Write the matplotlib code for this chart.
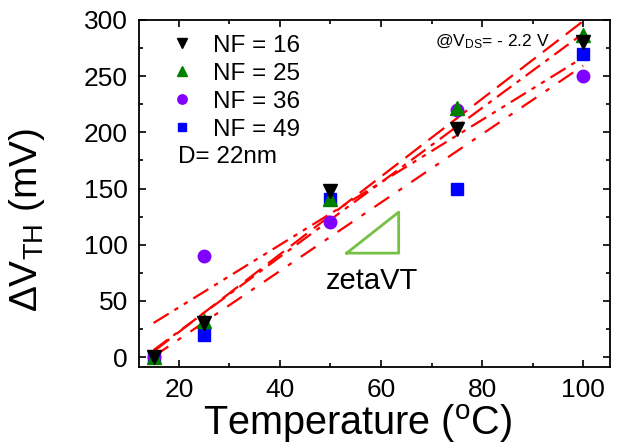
import matplotlib
matplotlib.use("Agg")
import matplotlib.pyplot as plt
import numpy as np

plt.rcParams['font.family'] = ['Liberation Sans', 'DejaVu Sans']
plt.rcParams['mathtext.fontset'] = 'custom'
plt.rcParams['mathtext.rm'] = 'Liberation Sans'
plt.rcParams['mathtext.it'] = 'Liberation Sans:italic'

temp = [15, 25, 50, 75, 100]
nf16 = [0, 30, 148, 203, 280]
nf25 = [0, 32, 141, 222, 287]
nf36 = [0, 90, 120, 220, 250]
nf49 = [0, 20, 141, 150, 270]

labels = ['NF = 16', 'NF = 25', 'NF = 36', 'NF = 49']
series = [nf16, nf25, nf36, nf49]
markers = ['v', '^', 'o', 's']
colors = ['black', 'green', '#8000ff', 'blue']
msizes = [10, 10, 9, 8]
zorders = [6, 5, 4, 3]
fit_styles = [(0, (8, 3, 2, 3)), (0, (9, 4)), (0, (8, 3, 2, 3, 2, 3)), (0, (8, 5, 2, 5))]

fig = plt.figure(figsize=(6.23, 4.44), dpi=100)
ax = fig.add_axes([0.223, 0.173, 0.756, 0.782])

# linear fits
for y, ls in zip(series, fit_styles):
    p = np.polyfit(temp, y, 1)
    xx = np.array([temp[0], temp[-1]])
    ax.plot(xx, np.polyval(p, xx), color='red', ls=ls, lw=1.6, zorder=1)

for y, m, c, ms, z, lab in zip(series, markers, colors, msizes, zorders, labels):
    ax.plot(temp, y, ls='none', marker=m, color=c, ms=ms, label=lab, zorder=z)

# slope triangle
ax.plot([53.2, 63.5, 63.5, 53.2], [92.5, 92.5, 129, 92.5], color='#76c043', lw=2, zorder=2)
ax.text(58.3, 68, 'zetaVT', fontsize=21, ha='center', va='center')
ax.text(0.75, 0.965, r'@V$_{\rm DS}$= - 2.2 V', transform=ax.transAxes,
        fontsize=12.5, ha='center', va='top')

leg = ax.legend(loc='upper left', bbox_to_anchor=(0.02, 1.0), frameon=False,
                fontsize=17.5, markerscale=0.75, handletextpad=0.45,
                labelspacing=0.25, borderaxespad=0.2, handlelength=1.6)
ax.text(0.082, 0.605, 'D= 22nm', transform=ax.transAxes, fontsize=17.5,
        ha='left', va='center')

ax.set_xlim(12.1, 105.3)
ax.set_ylim(-9, 300)
ax.set_xticks([20, 40, 60, 80, 100])
ax.set_xticks([30, 50, 70, 90], minor=True)
ax.set_yticks([0, 50, 100, 150, 200, 250, 300])
ax.set_yticks([25, 75, 125, 175, 225, 275], minor=True)
ax.tick_params(which='both', direction='in', top=True, right=True, labelsize=19, width=1.2)
ax.tick_params(which='major', length=5, pad=8)
ax.tick_params(which='minor', length=3)
for s in ax.spines.values():
    s.set_linewidth(1.3)

ax.set_xlabel(r'Temperature ($^{\rm o}$C)', fontsize=28.5)
ax.set_ylabel(r'$\Delta$V$_{\rm TH}$ (mV)', fontsize=28)
ax.xaxis.set_label_coords(0.465, -0.1)
ax.yaxis.set_label_coords(-0.195, 0.424)

fig.savefig('out.png', dpi=100)
